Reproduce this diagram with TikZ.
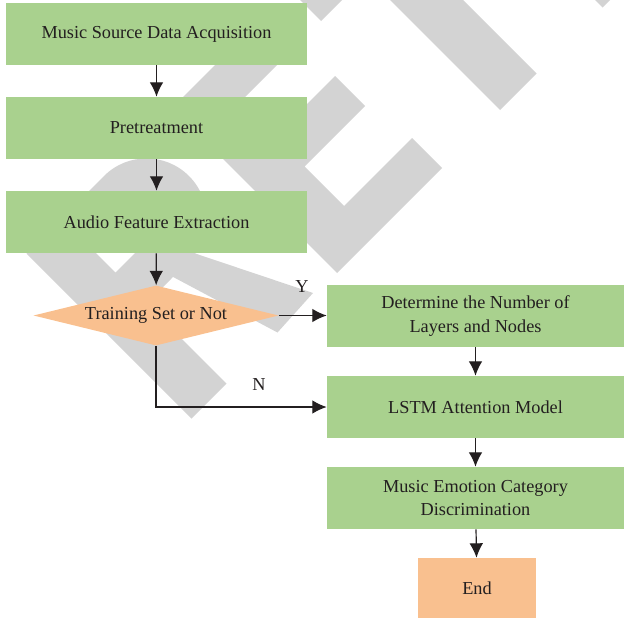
\documentclass[tikz,border=0pt]{standalone}
\usepackage{fontspec}
\setmainfont{Liberation Serif}
\usetikzlibrary{arrows.meta,shapes.geometric}
\definecolor{gruen}{HTML}{A9D18E}
\definecolor{orang}{HTML}{F9C08F}
\definecolor{wgrau}{HTML}{D3D3D3}
\definecolor{tinte}{HTML}{231F20}
\tikzset{
  kasten/.style={rectangle,fill=gruen,minimum height=1.55cm,inner sep=0pt,align=center,text=tinte,font=\fontsize{13}{16.5}\selectfont},
  raute/.style={diamond,fill=orang,minimum width=6.125cm,minimum height=1.5cm,shape aspect=4.08,inner sep=0pt,text=tinte,font=\fontsize{13}{16.5}\selectfont},
  ende/.style={rectangle,fill=orang,minimum width=2.95cm,minimum height=1.5cm,inner sep=0pt,text=tinte,font=\fontsize{13}{16.5}\selectfont},
  marke/.style={inner sep=0pt,text=tinte,font=\fontsize{13}{16.5}\selectfont},
  pfeil/.style={-{Latex[length=3.6mm,width=3.4mm]},tinte,line width=0.85pt},
  wasser/.style={fill=wgrau},
}
\begin{document}
\begin{tikzpicture}[x=0.025cm,y=-0.025cm]
  \useasboundingbox (0,0) rectangle (624,618);
  \begin{scope}
    \clip (0,0) rectangle (624,618);
    \fill[wasser,even odd rule] (26.5,253.5) -- (104,176) arc[start angle=225,end angle=405,radius=60.1]
      -- (146.5,303.5) -- (226.5,383.5) -- (191.5,418.5) -- cycle
      (92.5,249.5) -- (135,207) arc[start angle=225,end angle=405,radius=16.3] -- (115.5,272.5) -- cycle;
    \fill[wasser] (160,270) -- (162.5,242.5) -- (313,293) -- (277.5,332.5) -- cycle;
    \fill[wasser] (172,108) -- (265,15) -- (296,46) -- (240,102) -- (274.5,136.5) -- (335,76) -- (365,106)
      -- (304.5,166.5) -- (344,206) -- (412,138) -- (442,168) -- (337,273) -- cycle;
    \fill[wasser] (290,-10) -- (416.5,-136.5) -- (447.5,-105.5) -- (402.5,-60.5) -- (536.5,73.5) -- (500,110)
      -- (366,-24) -- (321,21) -- cycle;
    \fill[wasser] (437.5,-157.5) -- (474.5,-194.5) -- (639.5,-29.5) -- (602.5,7.5) -- cycle;
  \end{scope}

  \node[kasten,minimum width=7.525cm] (quelle) at (156.5,34) {Music Source Data Acquisition};
  \node[kasten,minimum width=7.525cm] (vorb) at (156.5,128) {Pretreatment};
  \node[kasten,minimum width=7.525cm] (merkmal) at (156.5,222) {Audio Feature Extraction};
  \node[raute] (train) at (156,315.5) {Training Set or Not};
  \node[kasten,minimum width=7.425cm] (schicht) at (475.5,316) {Determine the Number of\\Layers and Nodes};
  \node[kasten,minimum width=7.425cm] (lstm) at (475.5,407) {LSTM Attention Model};
  \node[kasten,minimum width=7.425cm] (disk) at (475.5,498) {Music Emotion Category\\Discrimination};
  \node[ende] (schluss) at (477,588) {End};
  \node[marke] (ja) at (302,287) {Y};
  \node[marke] (nein) at (259,385) {N};

  \draw[pfeil] (quelle) -- (vorb);
  \draw[pfeil] (vorb) -- (merkmal);
  \draw[pfeil] (merkmal) -- (train);
  \draw[pfeil] (train.east) -- (schicht.west |- train.east);
  \draw[pfeil] (train.south) |- (lstm.west);
  \draw[pfeil] (schicht) -- (lstm);
  \draw[pfeil] (lstm) -- (disk);
  \draw[pfeil] (disk) -- (schluss);
\end{tikzpicture}
\end{document}
